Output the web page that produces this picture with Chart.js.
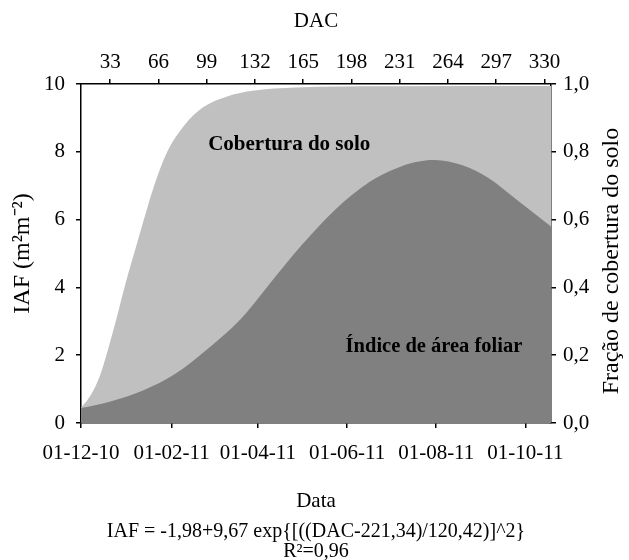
<!DOCTYPE html>
<html>
<head>
<meta charset="utf-8">
<script src="https://cdn.jsdelivr.net/npm/chart.js@4.4.1/dist/chart.umd.min.js"></script>
<style>
    html, body { margin: 0; padding: 0; background: #fff; }
</style>
</head>
<body>
<canvas id="GraficoIaf" width="629" height="560"></canvas>
<script>
// IAF (m2 m-2), por DAC
var dacIaf = [13, 32, 55, 77.5, 100, 122, 141, 164, 187, 210, 228, 242, 255, 274, 292, 310, 324, 334.5];
var iaf = [0.44, 0.62, 0.95, 1.45, 2.2, 3.05, 4.05, 5.25, 6.3, 7.1, 7.5, 7.7, 7.76, 7.6, 7.22, 6.62, 6.15, 5.8];

// fracao de cobertura do solo (0-1), por DAC
var dacCobertura = [13, 20, 26, 32, 38, 44, 50, 56, 63, 72, 84, 96, 112, 130, 160, 220, 334.5];
var cobertura = [0.044, 0.085, 0.14, 0.225, 0.32, 0.42, 0.51, 0.6, 0.7, 0.8, 0.88, 0.93, 0.962, 0.98, 0.99, 0.993, 0.994];

// eixo de datas (embaixo) e eixo DAC (em cima)
var datasDac = [13, 75, 134, 195, 256, 317];
var datasLabels = ['01-12-10', '01-02-11', '01-04-11', '01-06-11', '01-08-11', '01-10-11'];
var dacTicks = [33, 66, 99, 132, 165, 198, 231, 264, 297, 330];
var iafTicks = [0, 2, 4, 6, 8, 10];
var fracaoTicks = [0, 0.2, 0.4, 0.6, 0.8, 1.0];

var fonte = '"Liberation Serif", "Times New Roman", serif';

function pontos(xs, ys) {
    return xs.map(function (x, i) { return { x: x, y: ys[i] }; });
}

function eixoGrid() {
    return { display: true, drawOnChartArea: false, drawTicks: true, tickLength: 5, color: '#000', lineWidth: 1.5 };
}

var textos = {
    id: 'textos',
    afterDatasetsDraw: function (chart) {
        var ctx = chart.ctx;
        var x = chart.scales.x, y = chart.scales.y;
        ctx.save();
        ctx.fillStyle = '#000';
        ctx.textBaseline = 'middle';
        ctx.textAlign = 'left';
        ctx.font = 'bold 21px ' + fonte;
        ctx.fillText('Cobertura do solo', x.getPixelForValue(100), y.getPixelForValue(8.2));
        ctx.font = 'bold 20.5px ' + fonte;
        ctx.fillText('Índice de área foliar', x.getPixelForValue(194), y.getPixelForValue(2.25));

        ctx.font = '20px ' + fonte;
        ctx.textAlign = 'center';
        ctx.fillText('IAF = -1,98+9,67 exp{[((DAC-221,34)/120,42)]^2}', 316, 532);
        ctx.fillText('R²=0,96', 316, 552);

        ctx.font = '24px ' + fonte;
        ctx.translate(612, 261);
        ctx.rotate(-Math.PI / 2);
        ctx.fillText('Fração de cobertura do solo', 0, 0);
        ctx.restore();
    }
};

var ctx = document.getElementById("GraficoIaf").getContext('2d');
var grafico = new Chart(ctx, {
    type: 'line',
    data: {
        datasets: [{
            label: 'Índice de área foliar',
            data: pontos(dacIaf, iaf),
            yAxisID: 'y',
            xAxisID: 'x',
            backgroundColor: '#808080',
            borderWidth: 0,
            pointRadius: 0,
            fill: 'origin',
            cubicInterpolationMode: 'monotone'
        }, {
            label: 'Cobertura do solo',
            data: pontos(dacCobertura, cobertura),
            yAxisID: 'y2',
            xAxisID: 'x',
            backgroundColor: '#c0c0c0',
            borderWidth: 0,
            pointRadius: 0,
            fill: 'origin',
            cubicInterpolationMode: 'monotone'
        }]
    },
    options: {
        responsive: false,
        animation: false,
        layout: { padding: 0 },
        plugins: {
            legend: { display: false },
            tooltip: { enabled: false }
        },
        scales: {
            x: {
                type: 'linear',
                position: 'bottom',
                min: 13,
                max: 334.5,
                afterFit: function (s) { s.height = 137; },
                afterBuildTicks: function (s) { s.ticks = datasDac.map(function (v) { return { value: v }; }); },
                ticks: {
                    autoSkip: false, maxRotation: 0, padding: 13, color: '#000',
                    font: { family: fonte, size: 21 },
                    callback: function (v) { return datasLabels[datasDac.indexOf(v)]; }
                },
                grid: eixoGrid(),
                border: { display: true, color: '#000', width: 1.5 },
                title: { display: true, text: 'Data', color: '#000', font: { family: fonte, size: 21 }, padding: { top: 0, bottom: 46 } }
            },
            x2: {
                type: 'linear',
                position: 'top',
                min: 13,
                max: 334.5,
                afterFit: function (s) { s.height = 84; },
                afterBuildTicks: function (s) { s.ticks = dacTicks.map(function (v) { return { value: v }; }); },
                ticks: {
                    autoSkip: false, maxRotation: 0, padding: 4, color: '#000',
                    font: { family: fonte, size: 21 }
                },
                grid: eixoGrid(),
                border: { display: true, color: '#000', width: 1.5 },
                title: { display: true, text: 'DAC', color: '#000', font: { family: fonte, size: 21 }, padding: { top: 9, bottom: 0 } }
            },
            y: {
                position: 'left',
                min: 0,
                max: 10,
                afterFit: function (s) { s.width = 81; },
                afterBuildTicks: function (s) { s.ticks = iafTicks.map(function (v) { return { value: v }; }); },
                ticks: { padding: 11, color: '#000', font: { family: fonte, size: 21 } },
                grid: eixoGrid(),
                border: { display: true, color: '#000', width: 1.5 },
                title: { display: true, text: 'IAF (m²m⁻²)', color: '#000', font: { family: fonte, size: 24 }, padding: { top: 8, bottom: 0 } }
            },
            y2: {
                position: 'right',
                min: 0,
                max: 1,
                afterFit: function (s) { s.width = 78; },
                afterBuildTicks: function (s) { s.ticks = fracaoTicks.map(function (v) { return { value: v }; }); },
                ticks: {
                    padding: 7, color: '#000', font: { family: fonte, size: 21 },
                    callback: function (v) { return v.toFixed(1).replace('.', ','); }
                },
                grid: eixoGrid(),
                border: { display: true, color: '#000', width: 1.5 }
            }
        }
    },
    plugins: [textos]
});
</script>
</body>
</html>
